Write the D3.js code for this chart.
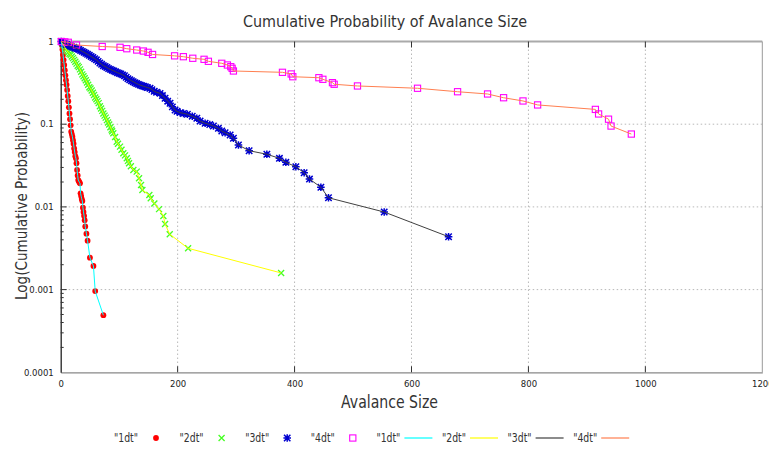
<!DOCTYPE html>
<html>
<head>
<meta charset="utf-8">
<script src="https://cdn.jsdelivr.net/npm/d3@7/dist/d3.min.js"></script>
<style>
  html, body { margin: 0; padding: 0; background: #fff; }
  svg { display: block; }
  text { font-family: "DejaVu Sans", sans-serif; }
</style>
</head>
<body>
<svg id="chart" width="769" height="450"></svg>
<script>
// Cumulative probability P(S >= s) for four time steps, [size, probability]
const series1dt = [
  [1,1],[2,0.9],[3,0.8],[4,0.69],[5,0.6],[6,0.52],[7,0.45],[8,0.39],[9,0.34],[10,0.3],
  [11,0.26],[12,0.22],[13,0.19],[14,0.16],[15,0.135],[16,0.115],[17,0.097],[18,0.081],
  [19,0.076],[20,0.0706],[21,0.064],[22,0.058],[23,0.051],[24,0.046],[25,0.041],
  [26,0.0387],[27,0.0337],[28,0.028],[29,0.024],[30,0.0211],[31,0.0205],[32,0.0198],
  [33,0.0193],[34,0.0146],[35,0.0135],[36,0.0125],[37,0.0118],[38,0.0098],[39,0.0087],
  [40,0.0078],[41,0.0069],[42,0.0058],[44,0.00474],[46,0.0039],[50,0.00243],
  [56,0.00193],[59,0.00096],[73,0.00049]
];
const series2dt = [
  [1,1],[3,0.95],[5,0.9],[7,0.85],[9,0.81],[11,0.77],[13,0.74],[15,0.71],[17,0.69],
  [19,0.66],[21,0.63],[23,0.6],[25,0.57],[27,0.54],[29,0.51],[31,0.49],[33,0.46],
  [35,0.43],[37,0.4],[39,0.38],[41,0.36],[43,0.34],[45,0.32],[47,0.3],[49,0.28],
  [51,0.27],[53,0.255],[55,0.24],[57,0.225],[59,0.21],[61,0.2],[63,0.19],[65,0.18],
  [67,0.165],[69,0.155],[71,0.145],[73,0.135],[75,0.127],[77,0.12],[79,0.112],
  [81,0.105],[83,0.099],[85,0.092],[87,0.086],[88,0.082],[90,0.0776],[93,0.07],
  [95.8,0.0614],[98,0.058],[101.5,0.0535],[104,0.049],[107.1,0.0445],[110,0.042],
  [113,0.0387],[115,0.036],[116.9,0.0337],[120,0.031],[124.3,0.028],[130,0.0267],
  [134,0.0222],[137.4,0.0184],[139.7,0.016],[151.6,0.0139],[154,0.0127],[160.2,0.011],
  [168.2,0.0094],[175.6,0.00776],[178.5,0.0062],[186.5,0.00467],[217.9,0.00316],
  [377,0.00159]
];
const series3dt = [
  [1,1],[4,0.96],[7,0.94],[10,0.92],[13,0.9],[16,0.88],[19,0.86],[22,0.85],[25,0.83],
  [28,0.82],[31,0.8],[34,0.78],[37,0.76],[40,0.74],[43,0.72],[46,0.7],[49,0.68],
  [52,0.66],[55,0.64],[58,0.62],[61,0.6],[64,0.575],[67,0.55],[70,0.53],[73,0.51],
  [76,0.5],[79,0.485],[82,0.47],[85,0.46],[88,0.45],[91,0.44],[94,0.43],[97,0.42],
  [100,0.413],[103,0.405],[106,0.395],[109,0.385],[112,0.37],[115,0.355],[118,0.345],
  [121,0.335],[124,0.327],[127,0.318],[130,0.31],[133,0.303],[136,0.297],[139,0.292],
  [142,0.287],[145,0.283],[148,0.278],[152.8,0.272],[156,0.262],[160,0.25],[164,0.243],
  [169.9,0.236],[174,0.222],[178.5,0.206],[183,0.19],[187,0.179],[191,0.162],
  [195.6,0.1486],[199,0.143],[204.2,0.138],[210,0.135],[216.7,0.132],[225,0.125],
  [232.8,0.118],[238.4,0.109],[247,0.1026],[255,0.099],[261.2,0.095],[269.7,0.0891],
  [275.5,0.0827],[281.2,0.0789],[289.8,0.074],[295.4,0.0676],[304,0.0561],
  [322.3,0.0478],[352.6,0.0433],[374.1,0.0387],[385.1,0.0346],[402.2,0.0306],
  [416.4,0.0259],[425.5,0.0217],[445,0.0173],[458,0.0129],[553.3,0.00867],
  [663.4,0.00436]
];
const series4dt = [
  [1,1],[7,0.99],[13,0.978],[27,0.907],[71,0.87],[101.5,0.851],[113,0.818],[130,0.789],
  [141.4,0.767],[149.4,0.74],[157.1,0.697],[194.8,0.671],[209.8,0.655],[225.9,0.627],
  [245.2,0.609],[252.6,0.576],[275.5,0.545],[285.1,0.52],[290.9,0.496],[293.2,0.474],
  [295.4,0.44],[379.3,0.424],[394.2,0.405],[397,0.375],[441.6,0.365],[448.4,0.349],
  [464.8,0.318],[467.7,0.304],[507.6,0.29],[610.3,0.272],[678.8,0.247],[730.1,0.232],
  [757.5,0.209],[790.7,0.191],[815.7,0.171],[914.5,0.151],[920,0.133],[937,0.115],
  [941.3,0.095],[976,0.076]
];

const seriesNames = ["1dt", "2dt", "3dt", "4dt"];
const xTicks = [0, 200, 400, 600, 800, 1000, 1200];
const yTicks = [1, 0.1, 0.01, 0.001, 0.0001];
const yTickLabels = ["1", "0.1", "0.01", "0.001", "0.0001"];

const titleText = "Cumulative Probability of Avalance Size";
const xLabelText = "Avalance Size";
const yLabelText = "Log(Cumulative Probability)";

const svg = d3.select("#chart");
const plotL = 60.7, plotR = 762.3, plotT = 41.5, plotB = 372.3;

const x = d3.scaleLinear().domain([0, 1200]).range([plotL, plotR]);
const y = d3.scaleLog().domain([1e-4, 1]).range([plotB, plotT]);

// grid (dotted)
const grid = svg.append("g");
grid.selectAll("line.gx").data(xTicks.filter(d => d > 0 && d < 1200)).join("line")
  .attr("x1", d => x(d)).attr("x2", d => x(d)).attr("y1", plotT).attr("y2", plotB)
  .attr("stroke", "#b8b8b8").attr("stroke-width", 1).attr("stroke-dasharray", "1.5,2.5");
grid.selectAll("line.gy").data(yTicks.filter(d => d < 1 && d > 1e-4)).join("line")
  .attr("x1", plotL).attr("x2", plotR).attr("y1", d => y(d)).attr("y2", d => y(d))
  .attr("stroke", "#b8b8b8").attr("stroke-width", 1).attr("stroke-dasharray", "1.5,2.5");

// border
svg.append("line").attr("x1", plotL).attr("x2", plotR).attr("y1", plotT).attr("y2", plotT)
  .attr("stroke", "#aaaaaa").attr("stroke-width", 2);
svg.append("line").attr("x1", plotR).attr("x2", plotR).attr("y1", plotT).attr("y2", plotB)
  .attr("stroke", "#999").attr("stroke-width", 1);

// x axis
const xAxis = d3.axisBottom(x).tickValues(xTicks).tickSize(0).tickPadding(9)
  .tickFormat(d3.format("d"));
const gx = svg.append("g").attr("transform", `translate(0,${plotB})`).call(xAxis);
gx.select(".domain").attr("stroke", "#888").attr("stroke-width", 1.2);
gx.selectAll("text").attr("font-size", 8.5).attr("fill", "#222");
// inward major ticks, top and bottom
svg.append("g").selectAll("line").data(xTicks.filter(d => d > 0 && d < 1200)).join("line")
  .attr("x1", d => x(d)).attr("x2", d => x(d)).attr("y1", plotB).attr("y2", plotB - 6)
  .attr("stroke", "#333");
svg.append("g").selectAll("line").data(xTicks.filter(d => d > 0 && d < 1200)).join("line")
  .attr("x1", d => x(d)).attr("x2", d => x(d)).attr("y1", plotT).attr("y2", plotT + 6)
  .attr("stroke", "#333");

// y axis
const yAxis = d3.axisLeft(y).tickValues(yTicks).tickSize(0).tickPadding(7)
  .tickFormat((d, i) => yTickLabels[i]);
const gy = svg.append("g").attr("transform", `translate(${plotL},0)`).call(yAxis);
gy.select(".domain").attr("stroke", "#222").attr("stroke-width", 1.3);
gy.selectAll("text").attr("font-size", 8.5).attr("fill", "#222");
// inward ticks (major + minor log ticks)
const minor = [];
[1e-4, 1e-3, 1e-2, 1e-1].forEach(base => { for (let k = 2; k <= 9; k++) minor.push(base * k); });
svg.append("g").selectAll("line").data(minor).join("line")
  .attr("x1", plotL).attr("x2", plotL + 3).attr("y1", d => y(d)).attr("y2", d => y(d))
  .attr("stroke", "#333");
svg.append("g").selectAll("line").data(yTicks.slice(1, 4)).join("line")
  .attr("x1", plotL).attr("x2", plotL + 6).attr("y1", d => y(d)).attr("y2", d => y(d))
  .attr("stroke", "#333");

// titles
svg.append("text").attr("x", 385).attr("y", 27).attr("text-anchor", "middle")
  .attr("font-size", 16).attr("fill", "#333")
  .attr("textLength", 284).attr("lengthAdjust", "spacingAndGlyphs").text(titleText);
svg.append("text").attr("x", 389.5).attr("y", 408).attr("text-anchor", "middle")
  .attr("font-size", 17).attr("fill", "#333")
  .attr("textLength", 97).attr("lengthAdjust", "spacingAndGlyphs").text(xLabelText);
svg.append("text").attr("transform", "translate(27,206) rotate(-90)").attr("text-anchor", "middle")
  .attr("font-size", 16).attr("fill", "#333")
  .attr("textLength", 188).attr("lengthAdjust", "spacingAndGlyphs").text(yLabelText);

// marker shapes
const markerStyles = [
  { color: "#ff0000", shape: "circle" },
  { color: "#44ff22", shape: "cross" },
  { color: "#0000d0", shape: "star" },
  { color: "#ff00ff", shape: "square" }
];
const lineColors = ["#00ffff", "#ffff00", "#404040", "#ff7f50"];
const allSeries = [series1dt, series2dt, series3dt, series4dt];

function drawMarker(g, shape, color, cx, cy) {
  if (shape === "circle") {
    g.append("circle").attr("cx", cx).attr("cy", cy).attr("r", 2.9).attr("fill", color);
  } else if (shape === "cross") {
    g.append("path").attr("d", `M${cx-3},${cy-3}L${cx+3},${cy+3}M${cx-3},${cy+3}L${cx+3},${cy-3}`)
      .attr("stroke", color).attr("stroke-width", 1.3).attr("fill", "none");
  } else if (shape === "star") {
    g.append("path").attr("d",
      `M${cx-3.2},${cy-3.2}L${cx+3.2},${cy+3.2}M${cx-3.2},${cy+3.2}L${cx+3.2},${cy-3.2}M${cx-3.8},${cy}L${cx+3.8},${cy}M${cx},${cy-3.8}L${cx},${cy+3.8}`)
      .attr("stroke", color).attr("stroke-width", 1.5).attr("fill", "none");
  } else {
    g.append("rect").attr("x", cx - 3.1).attr("y", cy - 3.1).attr("width", 6.2).attr("height", 6.2)
      .attr("stroke", color).attr("stroke-width", 1.1).attr("fill", "none");
  }
}

// points
allSeries.forEach((data, i) => {
  const g = svg.append("g").attr("class", "pts-" + seriesNames[i]);
  data.forEach(d => drawMarker(g, markerStyles[i].shape, markerStyles[i].color, x(d[0]), y(d[1])));
});

// connecting lines
const lineGen = d3.line().x(d => x(d[0])).y(d => y(d[1]));
allSeries.forEach((data, i) => {
  svg.append("path").datum(data).attr("d", lineGen)
    .attr("fill", "none").attr("stroke", lineColors[i]).attr("stroke-width", 1);
});

// legend
const legendY = 438;
const legendItems = [
  ...seriesNames.map((n, i) => ({ name: n, kind: "marker", i })),
  ...seriesNames.map((n, i) => ({ name: n, kind: "line", i }))
];
const lg = svg.append("g");
legendItems.forEach((it, k) => {
  const tx = 138 + k * 65.6;
  lg.append("text").attr("x", tx).attr("y", legendY + 4).attr("text-anchor", "end")
    .attr("font-size", 12).attr("fill", "#333")
    .attr("textLength", 24).attr("lengthAdjust", "spacingAndGlyphs")
    .text(`"${it.name}"`);
  const sx = tx + 18;
  if (it.kind === "marker") {
    drawMarker(lg, markerStyles[it.i].shape, markerStyles[it.i].color, sx, legendY);
  } else {
    lg.append("line").attr("x1", sx - 14).attr("x2", sx + 14).attr("y1", legendY).attr("y2", legendY)
      .attr("stroke", lineColors[it.i]).attr("stroke-width", 1.2);
  }
});
</script>
</body>
</html>
